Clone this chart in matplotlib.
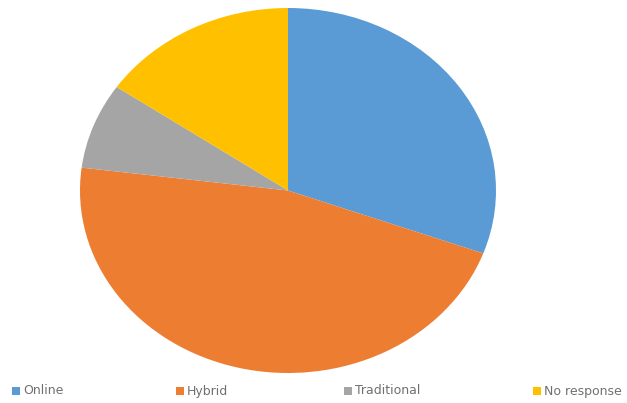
import matplotlib.pyplot as plt

# survey answers (share of respondents)
labels = ['Online', 'Hybrid', 'Traditional', 'No response']
values = [30.6, 46.4, 7.6, 15.4]
colors = ['#5B9BD5', '#ED7D31', '#A5A5A5', '#FFC000']

W, H = 627, 403
fig = plt.figure(figsize=(W / 100, H / 100), dpi=100)

# pie is stretched a bit wider than tall, like in the source
ax = fig.add_axes([80 / W, 1 - 373 / H, 416 / W, 365 / H])
ax.pie(values, colors=colors, startangle=90, counterclock=False,
       wedgeprops={'linewidth': 0})
ax.set_aspect('auto')
ax.set_xlim(-1, 1)
ax.set_ylim(-1, 1)
ax.axis('off')

# legend row along the bottom, laid out in pixels
lg = fig.add_axes([0, 0, 1, 1], facecolor='none')
lg.set_xlim(0, W)
lg.set_ylim(H, 0)
lg.axis('off')
leg_x = [16, 180, 348, 537]
for x, lab, c in zip(leg_x, labels, colors):
    lg.scatter([x], [391], marker='s', s=30, color=c, linewidths=0)
    lg.text(x + 7, 391, lab, fontsize=9, color='#707070', va='center', ha='left')

fig.savefig('out.png', dpi=100)
